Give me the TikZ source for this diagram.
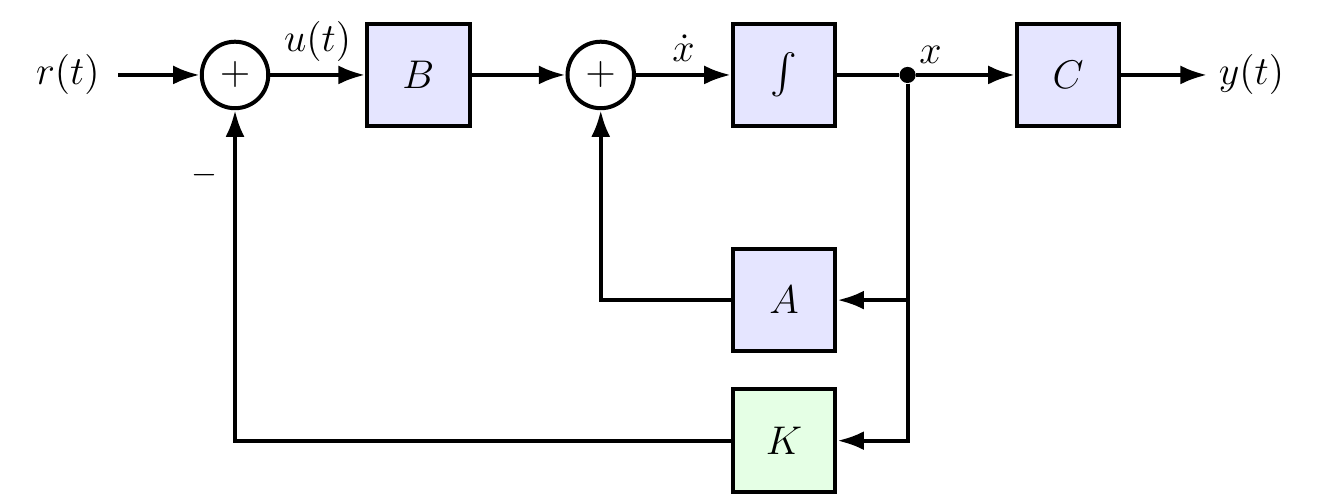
\documentclass[tikz,border=0pt]{standalone}
\usepackage{amsmath,amssymb}
\usetikzlibrary{arrows.meta}

\begin{document}
\begin{tikzpicture}[every node/.style={font=\large}, >={Latex[length=2.8mm, width=2mm]},
	block/.style={draw, very thick, fill=blue!10, minimum size=1.08cm},
	sumnode/.style={draw, very thick, circle, minimum size=0.7cm, inner sep=0pt}]
	\useasboundingbox (-2.474,0.789) rectangle (11.474,-4.516);
	\node (ref) at (-1.76,0) {$r(t)$};
	\node[sumnode] (sum1) at (0,0) {$+$};
	\node[block] (B) at (1.93,0) {$B$};
	\node[sumnode] (sum2) at (3.85,0) {$+$};
	\node[block] (integ) at (5.78,0) {$\int$};
	\node[circle, fill, inner sep=0pt, minimum size=1.7mm] (split) at (7.08,0) {};
	\node[block] (C) at (8.77,0) {$C$};
	\node (out) at (10.7,0) {$y(t)$};
	\node[block] (A) at (5.78,-2.37) {$A$};
	\node[block, fill=green!10] (K) at (5.78,-3.85) {$K$};
	\node[font=\normalsize] (minus) at (-0.32,-1.05) {$-$};
	\node[above right, inner sep=1.5pt] (xlab) at (split.north east) {$x$};
	\draw[->, very thick, shorten <=2pt] (ref) -- (sum1);
	\draw[->, very thick] (sum1) -- node[above] (ulab) {$u(t)$} (B);
	\draw[->, very thick] (B) -- (sum2);
	\draw[->, very thick] (sum2) -- node[above] (xdot) {$\dot{x}$} (integ);
	\draw[very thick] (integ) -- (split);
	\draw[->, very thick] (split) -- (C);
	\draw[->, very thick] (C) -- (out);
	\draw[->, very thick] (split) |- (A);
	\draw[->, very thick] (split) |- (K);
	\draw[->, very thick] (A) -| (sum2);
	\draw[->, very thick] (K) -| (sum1);
\end{tikzpicture}
\end{document}
